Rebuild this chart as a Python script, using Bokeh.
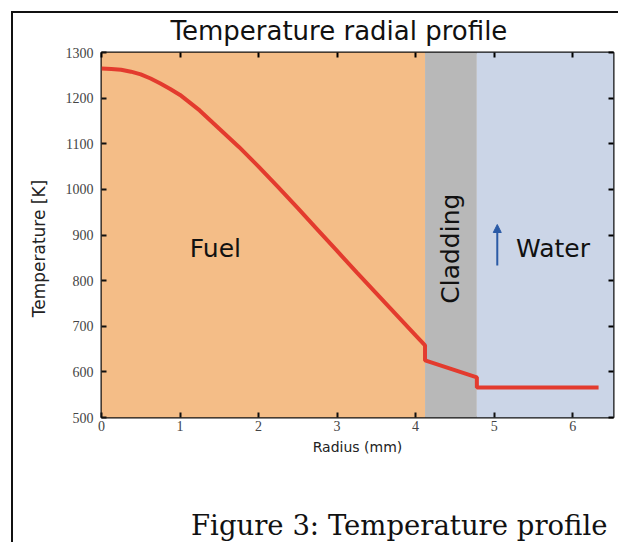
from bokeh.plotting import figure
from bokeh.models import Range1d, LinearAxis, FixedTicker, Title, Label, Arrow, NormalHead, ColumnDataSource
from bokeh.embed import file_html
from bokeh.resources import INLINE

# --- data ---
radius = [0, 0.125, 0.25, 0.375, 0.5, 0.625, 0.75, 0.875, 1.0, 1.25, 1.5, 1.75, 2.0, 2.25, 2.5, 2.75, 3.0,
          3.25, 3.5, 3.75, 4.0, 4.12,
          4.12, 4.78, 4.78, 6.33]
temperature = [1265, 1264, 1262, 1258, 1252, 1243, 1232, 1220, 1207, 1173, 1133, 1093, 1050, 1005, 959, 912, 865,
               818, 772, 726, 680, 658,
               625, 588, 566, 566]
region_names = ["Fuel", "Cladding", "Water"]
region_left = [0.0, 4.12, 4.78]
region_right = [4.12, 4.78, 6.52]
region_colors = ["#f4bd87", "#b8b8b8", "#cbd5e7"]
x_ticks = [0, 1, 2, 3, 4, 5, 6]
y_ticks = [500, 600, 700, 800, 900, 1000, 1100, 1200, 1300]
label_x = [1.45, 4.45, 5.75]
label_y = [870, 870, 870]
arrow_x = 5.04
arrow_y = [833, 923]
title_text = "Temperature radial profile"
caption_text = "Figure 3: Temperature profile"

FONT = "DejaVu Sans"
SERIF = "Liberation Serif"

p = figure(width=607, height=531, x_range=Range1d(0, 6.52), y_range=Range1d(500, 1300),
           output_backend="svg", toolbar_location=None,
           min_border_left=88, min_border_right=7, min_border_top=39, min_border_bottom=127)
p.styles = {"border-left": "2px solid #111", "border-top": "2px solid #111",
            "margin-left": "11px", "margin-top": "11px"}

p.title.text = title_text
p.title.text_font = FONT
p.title.text_font_size = "26px"
p.title.text_font_style = "normal"
p.title.align = "left"
p.title.offset = 69
p.title.standoff = 0
p.title.text_color = "#111"

p.grid.visible = False
p.outline_line_color = "#111"
p.outline_line_width = 2

regions = ColumnDataSource(dict(left=region_left, right=region_right,
                                bottom=[500] * 3, top=[1300] * 3, color=region_colors))
p.quad(left="left", right="right", bottom="bottom", top="top", fill_color="color", line_color=None, source=regions)

p.line(radius, temperature, line_color="#e33b2e", line_width=4)

for ax in (p.xaxis[0], p.yaxis[0]):
    ax.major_tick_in = 5
    ax.major_tick_out = 0
    ax.minor_tick_line_color = None
    ax.major_tick_line_width = 2
    ax.major_tick_line_color = "#111"
    ax.axis_line_color = None
    ax.major_label_text_font = SERIF
    ax.major_label_text_font_size = "14px"
    ax.major_label_text_color = "#444"
    ax.axis_label_text_font = FONT
    ax.axis_label_text_font_style = "normal"
    ax.axis_label_text_color = "#222"

p.xaxis.ticker = FixedTicker(ticks=x_ticks)
p.yaxis.ticker = FixedTicker(ticks=y_ticks)
p.xaxis.axis_label = "Radius (mm)"
p.xaxis.axis_label_text_font_size = "14px"
p.xaxis.major_label_standoff = 3
p.xaxis.axis_label_standoff = 5
p.yaxis.axis_label = "Temperature [K]" + "\u00a0" * 5
p.yaxis.axis_label_text_font_size = "17px"
p.yaxis.major_label_standoff = 8
p.yaxis.axis_label_standoff = 14

# mirrored tick axes (top carries a blank label used as spacing under the title)
top_ax = LinearAxis(ticker=FixedTicker(ticks=x_ticks), major_label_overrides={t: "" for t in x_ticks},
                    axis_line_color=None, major_tick_in=5, major_tick_out=0, major_tick_line_width=2,
                    minor_tick_line_color=None, major_label_standoff=0,
                    axis_label="\u00a0", axis_label_text_font_size="2px", axis_label_standoff=2)
right_ax = LinearAxis(ticker=FixedTicker(ticks=y_ticks), major_label_overrides={t: "" for t in y_ticks},
                      axis_line_color=None, major_tick_in=5, major_tick_out=0, major_tick_line_width=2,
                      minor_tick_line_color=None, major_label_standoff=0)
p.add_layout(top_ax, "above")
p.add_layout(right_ax, "right")

# invisible spacer axis between the x axis and the caption
spacer_ax = LinearAxis(ticker=FixedTicker(ticks=x_ticks), major_label_overrides={t: "" for t in x_ticks},
                       axis_line_color=None, major_tick_line_color=None, major_tick_in=0, major_tick_out=0,
                       minor_tick_line_color=None, major_label_standoff=0,
                       axis_label="\u00a0", axis_label_text_font_size="10px", axis_label_standoff=35)
p.add_layout(spacer_ax, "below")

angles = [0, 1.5708, 0]
for name, lx, ly, ang in zip(region_names, label_x, label_y, angles):
    p.add_layout(Label(x=lx, y=ly, text=name, angle=ang, text_align="center", text_baseline="middle",
                       text_font=FONT, text_font_size="25px", text_color="#111"))

p.add_layout(Arrow(x_start=arrow_x, y_start=arrow_y[0], x_end=arrow_x, y_end=arrow_y[1],
                   line_color="#2a5aa6", line_width=2,
                   end=NormalHead(size=8, fill_color="#2a5aa6", line_color="#2a5aa6")))

cap = Title(text=caption_text, align="right", text_font="DejaVu Serif",
            text_font_size="27.5px", text_font_style="normal", text_color="#111", standoff=0, offset=6)
p.add_layout(cap, "below")

open("out.html", "w").write(file_html(p, INLINE))
